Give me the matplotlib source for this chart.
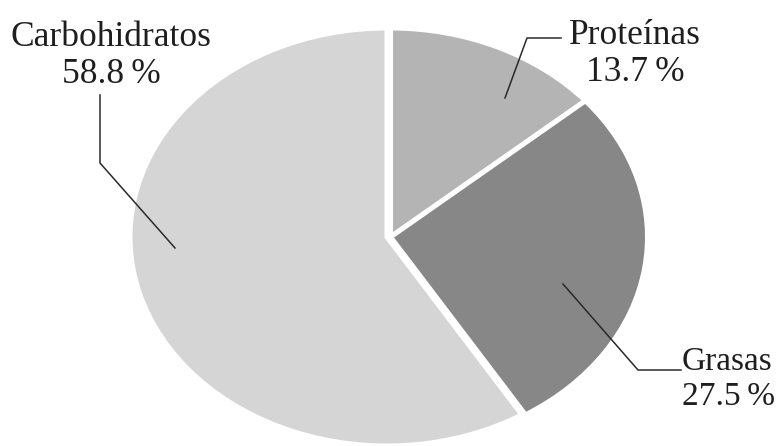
import matplotlib
matplotlib.use("Agg")
import matplotlib.pyplot as plt

categories = ["Proteínas", "Grasas", "Carbohidratos"]
values = [13.7, 27.5, 58.8]
colors = ["#b4b4b4", "#878787", "#d5d5d5"]

W, H = 779, 446
fig = plt.figure(figsize=(W / 100, H / 100), dpi=100)

# pie axes (stretched into an ellipse)
cx, cy, rx, ry = 387, 237, 257, 209
axp = fig.add_axes([(cx - rx) / W, (H - (cy + ry)) / H, 2 * rx / W, 2 * ry / H])
wedges, _ = axp.pie(values, colors=colors, startangle=90, counterclock=False,
                    radius=1.0, wedgeprops=dict(edgecolor="white", linewidth=3.6))
shift = 3.5 / rx
for w in wedges[:2]:
    c = w.center
    w.set_center((c[0] + shift, c[1]))
axp.set_xlim(-1, 1)
axp.set_ylim(-1, 1)
axp.set_aspect("auto")
axp.axis("off")

# overlay axes in pixel coordinates for labels
ax = fig.add_axes([0, 0, 1, 1])
ax.set_xlim(0, W)
ax.set_ylim(H, 0)
ax.axis("off")
ax.patch.set_alpha(0)

lc = "#2a2a2a"

labels_pos = {
    "Carbohidratos": dict(xy=(111, 56), ha="center", size=25.5),
    "Proteínas": dict(xy=(635, 54), ha="center", size=25.5),
    "Grasas": dict(xy=(682, 379), ha="left", size=24),
}
vals = dict(zip(categories, values))
for name, p in labels_pos.items():
    ax.text(p["xy"][0], p["xy"][1], f"{name}\n{vals[name]:.1f}\u2009%", ha=p["ha"],
            va="center", linespacing=1.18, family=["Liberation Serif", "DejaVu Serif"],
            fontsize=p["size"], color="#1e1e1e")

ax.plot([175, 100, 100], [248, 163, 95], color=lc, lw=1.1)
ax.plot([505, 527, 561], [98, 38, 38], color=lc, lw=1.1)
ax.plot([563, 638, 681], [284, 370, 370], color=lc, lw=1.1)

fig.savefig("out.png", dpi=100)
